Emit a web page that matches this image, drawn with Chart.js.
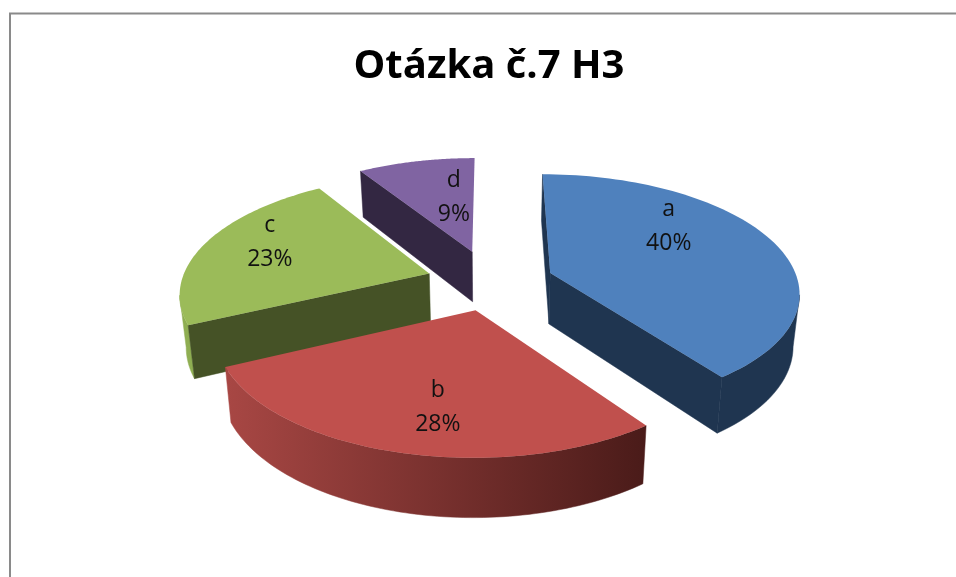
<!DOCTYPE html>
<html>
<head>
<meta charset="utf-8">
<title>Otázka č.7 H3</title>
<script src="https://cdn.jsdelivr.net/npm/chart.js@4/dist/chart.umd.min.js"></script>
<style>
  html, body { margin: 0; padding: 0; background: #fff; overflow: hidden; }
  canvas { display: block; }
</style>
</head>
<body>
<canvas id="chart" width="956" height="577"></canvas>
<script>
const categories = ['a', 'b', 'c', 'd'];
const shares = [40, 28, 23, 9];
const explode = [63, 60, 65, 70];

const topColors = ['#4f81bd', '#c0504d', '#9bbb59', '#8064a2'];
const cutColors = ['#1f3550', '#4c1d1b', '#455226', '#332742'];
const wallColors = [
  ['#1f3550', '#1f3550'],
  ['#a84744', '#4a1b19'],
  ['#8fae52', '#8fae52'],
  ['#332742', '#332742'],
];
const drawOrder = [3, 2, 0, 1];
const labelNudge = [[-16, -26], [6, 18], [-23, -13], [17, 3]];

// fake Excel 3D look: arcs come from the doughnut controller, only the projection is ours
const centerX = 491, centerY = 282, squash = 0.468, persp = 0.15, floorScale = 0.979;

function projector(arc) {
  const R = arc.outerRadius;
  const mid = (arc.startAngle + arc.endAngle) / 2;
  const ou = arc.options.offset * Math.cos(mid);
  const ov = -arc.options.offset * Math.sin(mid);
  return (ang, r) => {
    const u = ou + R * r * Math.cos(ang);
    const v = ov - R * r * Math.sin(ang);
    const w = 1 + persp * v / R;
    return { x: centerX + u / w, y: centerY - squash * v / w, w };
  };
}

// the wall gets taller towards the viewer
function floorPoint(q) {
  return { x: centerX + (q.x - centerX) * floorScale, y: q.y + 14.4 + 37 / q.w };
}

// extrude a run of top-face points down to the floor
function extrude(ctx, run, color) {
  ctx.fillStyle = color;
  ctx.strokeStyle = color;
  ctx.lineWidth = 0.5;
  ctx.beginPath();
  run.forEach((q, n) => (n ? ctx.lineTo(q.x, q.y) : ctx.moveTo(q.x, q.y)));
  run.slice().reverse().forEach((q) => {
    const f = floorPoint(q);
    ctx.lineTo(f.x, f.y);
  });
  ctx.closePath();
  ctx.fill();
  ctx.stroke();
}

function cutVisible(apex, edge, inner) {
  const dx = edge.x - apex.x;
  if (Math.abs(dx) < 4) return false;
  const lineY = apex.y + (edge.y - apex.y) * (inner.x - apex.x) / dx;
  return inner.y < lineY;
}

function drawSlice(ctx, arc, i) {
  const p = projector(arc);
  const steps = 80;
  const pts = [];
  for (let s = 0; s <= steps; s++) {
    pts.push(p(arc.startAngle + (arc.endAngle - arc.startAngle) * s / steps, 1));
  }
  const apex = p(0, 0);
  const inner = p((arc.startAngle + arc.endAngle) / 2, 0.6);

  // outer wall: only the part running right to left faces the viewer
  const front = pts.filter((q, s) => (s < steps && pts[s + 1].x < q.x) || (s > 0 && q.x < pts[s - 1].x));
  if (front.length > 1) {
    const grad = ctx.createLinearGradient(front[front.length - 1].x, 0, front[0].x, 0);
    grad.addColorStop(0, wallColors[i][0]);
    grad.addColorStop(1, wallColors[i][1]);
    extrude(ctx, front, grad);
  }

  if (cutVisible(apex, pts[0], inner)) extrude(ctx, [apex, pts[0]], cutColors[i]);
  if (cutVisible(apex, pts[steps], inner)) extrude(ctx, [apex, pts[steps]], cutColors[i]);

  ctx.fillStyle = arc.options.backgroundColor;
  ctx.beginPath();
  ctx.moveTo(apex.x, apex.y);
  pts.forEach((q) => ctx.lineTo(q.x, q.y));
  ctx.closePath();
  ctx.fill();
}

const pie3d = {
  id: 'pie3d',
  beforeDraw(chart) {
    const { ctx } = chart;
    ctx.save();
    ctx.strokeStyle = '#8a8a8a';
    ctx.lineWidth = 2;
    ctx.strokeRect(10, 13.5, 1000, 1000);
    ctx.restore();
  },
  beforeDatasetsDraw(chart) {
    const { ctx } = chart;
    const arcs = chart.getDatasetMeta(0).data;
    ctx.save();
    drawOrder.forEach((i) => drawSlice(ctx, arcs[i], i));
    ctx.fillStyle = '#111';
    ctx.font = '23px "Open Sans"';
    ctx.textAlign = 'center';
    ctx.textBaseline = 'middle';
    arcs.forEach((arc, i) => {
      const pos = projector(arc)((arc.startAngle + arc.endAngle) / 2, 0.6);
      const x = pos.x + labelNudge[i][0];
      const y = pos.y + labelNudge[i][1];
      ctx.fillText(categories[i], x, y - 17);
      ctx.fillText(shares[i] + '%', x, y + 17);
    });
    ctx.restore();
    return false; // flat arcs stay undrawn
  },
};

new Chart(document.getElementById('chart'), {
  type: 'pie',
  data: {
    labels: categories,
    datasets: [{
      data: shares,
      backgroundColor: topColors,
      offset: explode,
      borderWidth: 0,
    }],
  },
  options: {
    responsive: false,
    animation: false,
    radius: 248,
    layout: { padding: { left: 22 } },
    plugins: {
      legend: { display: false },
      tooltip: { enabled: false },
      title: {
        display: true,
        text: 'Otázka č.7 H3',
        color: '#000',
        font: { family: '"Open Sans"', size: 40, weight: 'bold' },
        padding: { top: 43, bottom: 10 },
      },
    },
  },
  plugins: [pie3d],
});
</script>
</body>
</html>
